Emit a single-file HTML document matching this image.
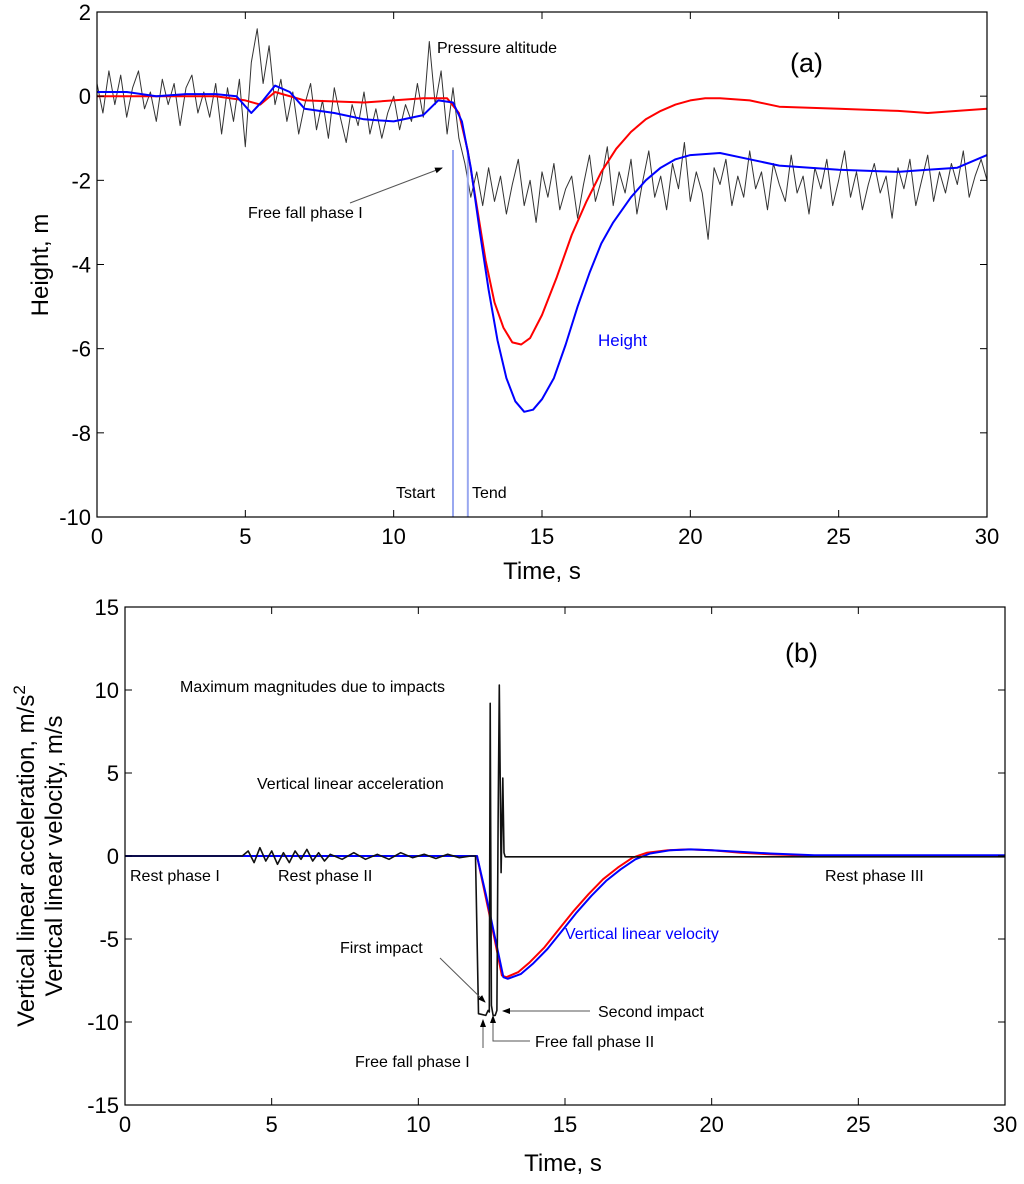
<!DOCTYPE html>
<html><head><meta charset="utf-8"><style>
body{margin:0;background:#fff}
svg text{font-family:"Liberation Sans",sans-serif}
</style></head><body>
<svg id="c" width="1024" height="1179" xmlns="http://www.w3.org/2000/svg"></svg>
<script>
// ---- Panel (a) data ----
const aRedT=[0,2,4,5,5.5,6,7,9,11,11.5,11.8,12.2,12.5,12.8,13.1,13.4,13.7,14.0,14.3,14.6,15.0,15.5,16.0,16.5,17.0,17.5,18.0,18.5,19.0,19.5,20.0,20.5,21,22,23,25,27,28,29,30];
const aRedV=[0,0,0,-0.1,-0.2,0.1,-0.1,-0.15,-0.05,-0.05,-0.05,-0.4,-1.3,-2.6,-3.9,-4.9,-5.5,-5.85,-5.9,-5.75,-5.2,-4.3,-3.3,-2.5,-1.8,-1.25,-0.85,-0.55,-0.35,-0.2,-0.1,-0.05,-0.05,-0.1,-0.25,-0.3,-0.35,-0.4,-0.35,-0.3];
const aBlueT=[0,1,2,3,4,4.7,5.2,5.6,6,6.5,7,8,9,10,11,11.5,12,12.3,12.6,12.9,13.2,13.5,13.8,14.1,14.4,14.7,15.0,15.4,15.8,16.2,16.6,17.0,17.4,18.0,18.5,19.0,19.5,20,21,22,23,25,27,28,29,30];
const aBlueV=[0.1,0.1,0.0,0.05,0.05,0,-0.4,-0.1,0.25,0.1,-0.3,-0.4,-0.55,-0.6,-0.45,-0.1,-0.15,-0.6,-1.7,-3.2,-4.6,-5.8,-6.7,-7.25,-7.5,-7.45,-7.2,-6.7,-5.9,-5.0,-4.2,-3.5,-3.0,-2.4,-2.0,-1.7,-1.5,-1.4,-1.35,-1.5,-1.65,-1.75,-1.8,-1.75,-1.7,-1.4];
const aPress=[0.3,-0.4,0.6,-0.2,0.5,-0.5,0.2,0.6,-0.3,0.1,-0.6,0.4,-0.2,0.3,-0.7,0.2,0.5,-0.4,0.1,-0.5,0.3,-0.9,0.2,-0.6,0.4,-1.2,
0.8,1.6,0.3,1.2,-0.2,
0.4,-0.6,0.1,-0.9,-0.2,0.3,-0.8,-0.1,-1.0,0.2,-0.5,-1.1,-0.2,-0.7,0.1,-0.9,-0.3,-1.0,-0.4,0.0,-0.8,-0.2,-0.6,0.3,-0.5,
1.3,-0.2,0.6,-0.9,0.2,
-1.0,-1.6,-2.4,-1.8,-2.6,
-1.7,-2.5,-1.9,-2.8,-2.1,-1.5,-2.6,-2.0,-3.0,-1.8,-2.4,-1.6,-2.7,-2.2,-1.9,-2.9,-2.1,-1.4,-2.5,-2.0,-1.2,-2.6,-1.8,-2.3,-1.5,-2.8,-2.0,-1.3,-2.4,-1.9,-2.7,-1.6,-2.2,-1.1,-2.5,-1.8,-2.3,-3.4,-1.7,-2.1,-1.5,-2.6,-1.9,-2.4,-1.3,-2.2,-1.8,-2.7,-1.6,-2.1,-2.5,-1.4,-2.3,-1.9,-2.8,-1.7,-2.2,-1.5,-2.6,-2.0,-1.3,-2.4,-1.8,-2.7,-2.1,-1.6,-2.3,-1.9,-2.9,-1.7,-2.2,-1.5,-2.6,-2.0,-1.4,-2.5,-1.8,-2.3,-1.6,-2.1,-1.3,-2.4,-1.9,-1.5,-2.0];
const aXTicks=[0,5,10,15,20,25,30];
const aYTicks=[2,0,-2,-4,-6,-8,-10];
const aMarkers=[12.0,12.5];
// ---- Panel (b) data ----
const bAccT=[0,4,4.2,4.4,4.6,4.8,5,5.2,5.4,5.6,5.8,6,6.2,6.4,6.6,6.8,7,7.4,7.8,8.2,8.6,9,9.4,9.8,10.2,10.6,11,11.4,11.8,11.95,12.05,12.3,12.38,12.42,12.45,12.49,12.55,12.62,12.68,12.72,12.76,12.82,12.88,12.92,12.96,13.05,30];
const bAccV=[0,0,0.3,-0.4,0.5,-0.3,0.3,-0.5,0.2,-0.4,0.3,-0.2,0.4,-0.3,0.2,-0.3,0.1,-0.2,0.2,-0.2,0.1,-0.2,0.2,-0.1,0.1,-0.15,0.1,-0.1,0,0,-9.5,-9.6,-9.3,-9.4,9.2,-9.0,-9.6,-9.6,-9.3,2,10.3,-1,4.7,0.2,-0.05,-0.05,-0.05];
const bRedT=[0,12.0,12.3,12.6,12.85,13.0,13.4,13.8,14.3,14.8,15.3,15.8,16.3,16.8,17.3,17.8,18.5,19.2,20,21,22,23.5,30];
const bRedV=[0,0,-2.5,-5.0,-7.2,-7.3,-7.0,-6.4,-5.5,-4.4,-3.3,-2.3,-1.4,-0.7,-0.1,0.2,0.35,0.4,0.35,0.2,0.1,0.02,0];
const bBlueT=[0,12.0,12.3,12.6,12.9,13.05,13.5,13.9,14.4,14.9,15.4,15.9,16.4,16.9,17.4,17.9,18.6,19.3,20,21,22,23.5,30];
const bBlueV=[0,0,-2.3,-4.8,-7.3,-7.4,-7.1,-6.5,-5.6,-4.5,-3.4,-2.4,-1.5,-0.8,-0.2,0.15,0.35,0.4,0.35,0.25,0.15,0.05,0.05];
const bXTicks=[0,5,10,15,20,25,30];
const bYTicks=[15,10,5,0,-5,-10,-15];

const svg=document.getElementById('c');
const NS='http://www.w3.org/2000/svg';
function mk(tag,at,parent){const e=document.createElementNS(NS,tag);for(const k in at)e.setAttribute(k,at[k]);(parent||svg).appendChild(e);return e;}
function txt(s,x,y,size,at,parent){const e=mk('text',Object.assign({x:x,y:y,'font-size':size},at||{}),parent);e.textContent=s;return e;}

mk('defs',{}).innerHTML='<marker id="ah" markerWidth="8" markerHeight="8" refX="7" refY="4" orient="auto"><path d="M0,1 L8,4 L0,7 z" fill="#000"/></marker>';

// Panel (a) axes
const AL=97,AR=987,AT=12,AB=517;
const ax=t=>AL+(t/30)*(AR-AL);
const ay=v=>AT+(2-v)/12*(AB-AT);
const ga=mk('g',{});


function line(ts,vs,fx,fy,col,w,name,g){const p=ts.map((t,i)=>fx(t).toFixed(1)+','+fy(vs[i]).toFixed(1)).join(' ');const e=mk('polyline',{points:p,fill:'none',stroke:col,'stroke-width':w,'stroke-linejoin':'round'},g);return e;}
const pT=aPress.map((_,i)=>i*30/(aPress.length-1));
line(pT,aPress,ax,ay,'#333',1,'pressure-altitude-line',ga);
aMarkers.forEach((m,i)=>{const e=mk('line',{x1:ax(m),x2:ax(m),y1:150,y2:AB,stroke:'#99a8f0','stroke-width':2},ga);});
line(aRedT,aRedV,ax,ay,'#f00',2,'red-height-line',ga);
line(aBlueT,aBlueV,ax,ay,'#00f',2,'height-line',ga);
const fa=mk('rect',{x:AL,y:AT,width:AR-AL,height:AB-AT,fill:'none',stroke:'#000','stroke-width':1.2},ga);

aXTicks.forEach(t=>{mk('line',{x1:ax(t),x2:ax(t),y1:AB,y2:AB-7,stroke:'#000'},ga);mk('line',{x1:ax(t),x2:ax(t),y1:AT,y2:AT+7,stroke:'#000'},ga);const e=txt(String(t),ax(t),AB+27,22,{'text-anchor':'middle'},ga);});
aYTicks.forEach(v=>{mk('line',{x1:AL,x2:AL+7,y1:ay(v),y2:ay(v),stroke:'#000'},ga);mk('line',{x1:AR,x2:AR-7,y1:ay(v),y2:ay(v),stroke:'#000'},ga);const e=txt(String(v),AL-6,ay(v)+8,22,{'text-anchor':'end'},ga);});
let e;
e=txt('Time, s',542,579,24,{'text-anchor':'middle'},ga);
e=txt('Height, m',0,0,24,{'text-anchor':'middle',transform:'translate(48,265) rotate(-90)'},ga);
e=txt('(a)',790,72,27,{'font-family':'Liberation Serif, serif'},ga);
e=txt('Pressure altitude',437,53,16,{},ga);
e=txt('Free fall phase I',248,218,16,{},ga);
mk('line',{x1:350,y1:203,x2:442,y2:168,stroke:'#555','stroke-width':1,'marker-end':'url(#ah)'},ga);
e=txt('Height',598,346,17,{fill:'#00f'},ga);
e=txt('Tstart',396,498,16,{},ga);
e=txt('Tend',472,498,16,{},ga);

// Panel (b)
const BL=125,BR=1005,BT=607,BB=1105;
const bx=t=>BL+(t/30)*(BR-BL);
const by=v=>BT+(15-v)/30*(BB-BT);
const gb=mk('g',{});


line(bRedT,bRedV,bx,by,'#f00',2,'red-velocity-line',gb);
line(bBlueT,bBlueV,bx,by,'#00f',2,'vertical-velocity-line',gb);
line(bAccT,bAccV,bx,by,'#111',1.6,'vertical-acceleration-line',gb);
const fb=mk('rect',{x:BL,y:BT,width:BR-BL,height:BB-BT,fill:'none',stroke:'#000','stroke-width':1.2},gb);

bXTicks.forEach(t=>{mk('line',{x1:bx(t),x2:bx(t),y1:BB,y2:BB-7,stroke:'#000'},gb);mk('line',{x1:bx(t),x2:bx(t),y1:BT,y2:BT+7,stroke:'#000'},gb);const e=txt(String(t),bx(t),BB+27,22,{'text-anchor':'middle'},gb);});
bYTicks.forEach(v=>{mk('line',{x1:BL,x2:BL+7,y1:by(v),y2:by(v),stroke:'#000'},gb);mk('line',{x1:BR,x2:BR-7,y1:by(v),y2:by(v),stroke:'#000'},gb);const e=txt(String(v),BL-6,by(v)+8,22,{'text-anchor':'end'},gb);});
e=txt('Time, s',563,1171,24,{'text-anchor':'middle'},gb);
e=mk('text',{x:0,y:0,'font-size':24,'text-anchor':'middle',transform:'translate(34,856) rotate(-90)'},gb);
e.innerHTML='Vertical linear acceleration, m/s<tspan dy="-9" font-size="17">2</tspan>';

e=txt('Vertical linear velocity, m/s',0,0,24,{'text-anchor':'middle',transform:'translate(62,856) rotate(-90)'},gb);
e=txt('(b)',785,662,27,{'font-family':'Liberation Serif, serif'},gb);
const ann=[['Maximum magnitudes due to impacts',180,692,'max-magnitudes-label','#000'],['Vertical linear acceleration',257,789,'acceleration-label','#000'],['Rest phase I',130,881,'rest-phase-1-label','#000'],['Rest phase II',278,881,'rest-phase-2-label','#000'],['Rest phase III',825,881,'rest-phase-3-label','#000'],['First impact',340,953,'first-impact-label','#000'],['Vertical linear velocity',565,939,'velocity-label','#00f'],['Second impact',598,1017,'second-impact-label','#000'],['Free fall phase II',535,1047,'free-fall-2-label','#000'],['Free fall phase I',355,1067,'free-fall-1-label','#000']];
ann.forEach(a=>{const e=txt(a[0],a[1],a[2],16,{fill:a[4]},gb);});
mk('line',{x1:440,y1:958,x2:485,y2:1002,stroke:'#555','marker-end':'url(#ah)'},gb);
mk('line',{x1:590,y1:1011,x2:503,y2:1011,stroke:'#555','marker-end':'url(#ah)'},gb);
mk('polyline',{points:'530,1041 493,1041 493,1016',fill:'none',stroke:'#555','marker-end':'url(#ah)'},gb);
mk('line',{x1:483,y1:1048,x2:483,y2:1020,stroke:'#555','marker-end':'url(#ah)'},gb);
</script>
</body></html>
